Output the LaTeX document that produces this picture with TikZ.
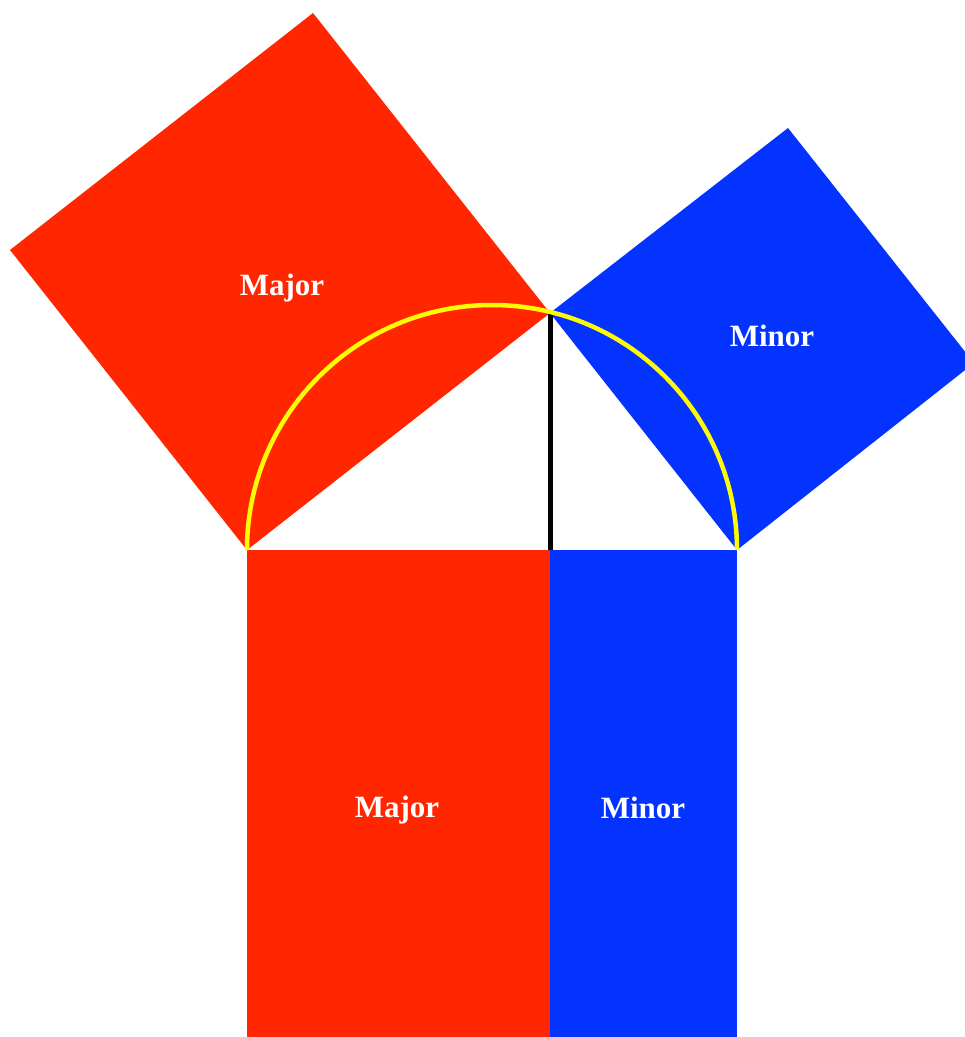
\documentclass[tikz,border=0pt]{standalone}
\usepackage{fontspec}
\setmainfont{Liberation Serif}
\usetikzlibrary{calc}
\definecolor{myred}{RGB}{255,38,0}
\definecolor{myblue}{RGB}{4,51,255}
\definecolor{myyellow}{RGB}{255,251,0}
\begin{document}
\begin{tikzpicture}[x=1pt,y=-1pt,
  lbl/.style={text=white,font=\fontsize{31}{34}\selectfont\bfseries,inner sep=0pt,anchor=base}]
\useasboundingbox (0,0) rectangle (965,1037);
\clip (0,0) rectangle (965,1037);
\coordinate (A) at (247,550);
\coordinate (B) at (737,550);
\coordinate (C) at (550,313);
\coordinate (D) at (550,550);
\coordinate (O) at (492,550);
% squares on legs
\fill[myred] (A) -- (C) -- ++(-237,-300) -- ($(A)+(-237,-300)$) -- cycle;
\fill[myblue] (C) -- (B) -- ++(237,-187) -- ($(C)+(238,-185)$) -- cycle;
% rectangles under hypotenuse
\fill[myred] (A) rectangle (550,1040);
\fill[myblue] (D) rectangle (737,1040);
% altitude and semicircle
\draw[line width=5pt] (C) -- (D);
\draw[myyellow,line width=4.5pt] (A) arc[start angle=180,end angle=360,radius=245];
% labels
\node[lbl] (l1) at (282,295) {Major};
\node[lbl] (l2) at (772,346) {Minor};
\node[lbl] (l3) at (397,817) {Major};
\node[lbl] (l4) at (643,818) {Minor};
\end{tikzpicture}
\end{document}
